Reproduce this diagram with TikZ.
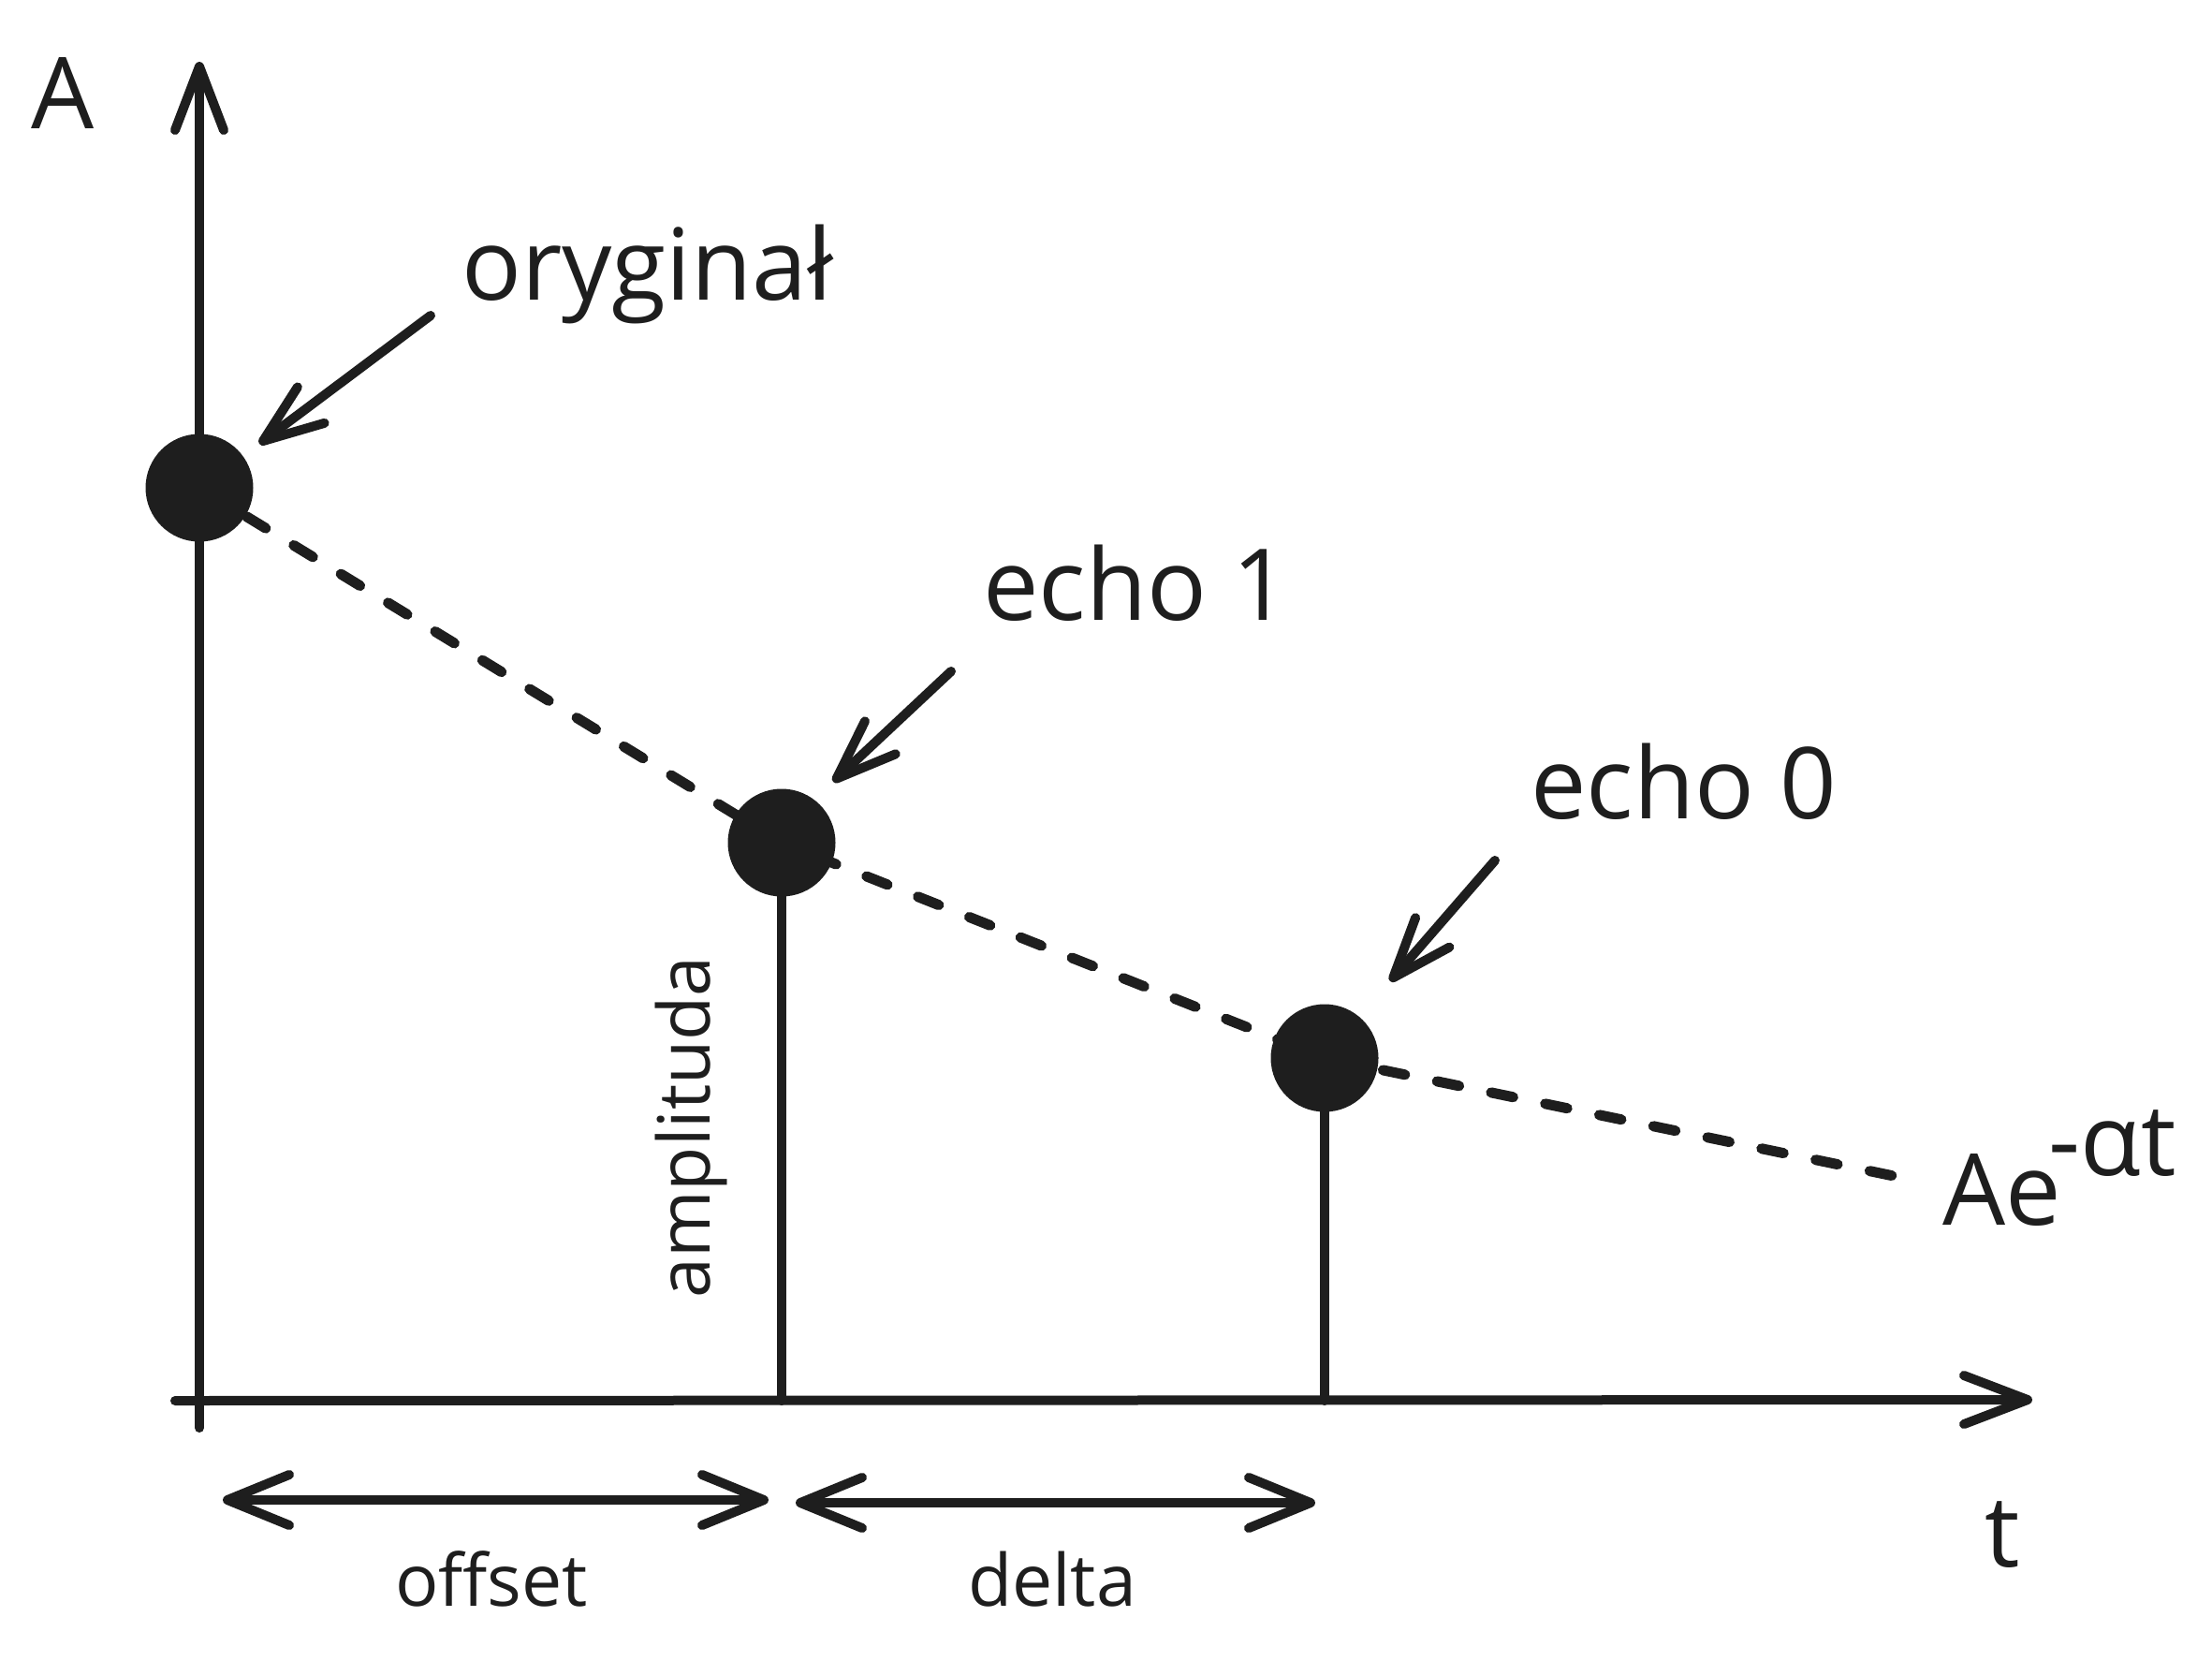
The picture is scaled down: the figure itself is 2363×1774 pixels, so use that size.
\documentclass[tikz,border=0pt]{standalone}
\usepackage{fontspec}
\setmainfont{Open Sans}
\usetikzlibrary{arrows.meta}
\definecolor{ink}{HTML}{1E1E1E}
\newcommand\LabBig{\fontsize{106}{120}\selectfont}
\newcommand\LabSmall{\fontsize{77}{90}\selectfont}
\tikzset{
  stroke/.style={draw=ink, line width=10pt, line cap=round, line join=round},
  axistip/.style={-{Straight Barb[length=68pt,width=52pt,line cap=round,line join=round]}},
  pointtip/.style={-{Straight Barb[length=64pt,width=48pt,line cap=round,line join=round]}},
  bothtip/.style={{Straight Barb[length=66pt,width=54pt,line cap=round,line join=round]}-{Straight Barb[length=66pt,width=54pt,line cap=round,line join=round]}},
  trend/.style={draw=ink, line width=11pt, line cap=round, dash pattern=on 24pt off 35pt},
  dot/.style={circle, fill=ink, minimum size=115pt, inner sep=0pt},
  big/.style={text=ink, font=\LabBig, inner sep=0pt},
  small/.style={text=ink, font=\LabSmall, inner sep=0pt},
}
\begin{document}
\begin{tikzpicture}[x=1pt,y=-1pt]
\useasboundingbox[fill=white] (0,0) rectangle (2363,1774);
% coordinates
\coordinate (p0) at (213,521);
\coordinate (p1) at (835,900);
\coordinate (p2) at (1415,1130);
\coordinate (pend) at (2052,1262);
\coordinate (yb) at (213,1525);
\coordinate (yt) at (213,66);
\coordinate (xl) at (187,1496);
\coordinate (xr) at (2171,1495);
\coordinate (b1) at (835,1496);
\coordinate (b2) at (1415,1496);
% dashed decay curve
\draw[trend] (p0) -- (p1) -- (p2) -- (pend);
% axes
\draw[stroke, axistip] (yb) -- (yt);
\draw[stroke, axistip] (xl) -- (xr);
% dots
\node[dot] (d0) at (p0) {};
\node[dot] (d1) at (p1) {};
\node[dot] (d2) at (p2) {};
% stems
\draw[stroke] (d1.center) -- (b1);
\draw[stroke] (d2.center) -- (b2);
% labels
\node[big, anchor=base west] (lA) at (33,138) {A};
\node[big, anchor=base west] (lorig) at (493,320) {oryginał};
\node[big, anchor=base west] (lecho1) at (1050,662) {echo 1};
\node[big, anchor=base west] (lecho0) at (1635,874) {echo 0};
\node[big, anchor=base west] (lAe) at (2075,1308) {Ae};
\node[big, anchor=base west] (lexp) at (2188,1255) {-αt};
\node[big, anchor=base west] (lt) at (2120,1673) {t};
\node[small, anchor=base] (loff) at (525,1715) {offset};
\node[small, anchor=base] (ldel) at (1124,1715) {delta};
\node[small, anchor=base, rotate=90] (lamp) at (758,1204) {amplituda};
% pointer arrows
\coordinate (o1) at (460,337);
\coordinate (o2) at (277,474);
\coordinate (e1a) at (1016,717);
\coordinate (e1b) at (890,835);
\coordinate (e0a) at (1597,919);
\coordinate (e0b) at (1485,1048);
\draw[stroke, pointtip] (o1) -- (o2);
\draw[stroke, pointtip] (e1a) -- (e1b);
\draw[stroke, pointtip] (e0a) -- (e0b);
% span arrows
\coordinate (s0) at (238,1602);
\coordinate (s1) at (821,1602);
\coordinate (s2) at (850,1605);
\coordinate (s3) at (1405,1605);
\draw[stroke, bothtip] (s0) -- (s1);
\draw[stroke, bothtip] (s2) -- (s3);
\end{tikzpicture}
\end{document}
